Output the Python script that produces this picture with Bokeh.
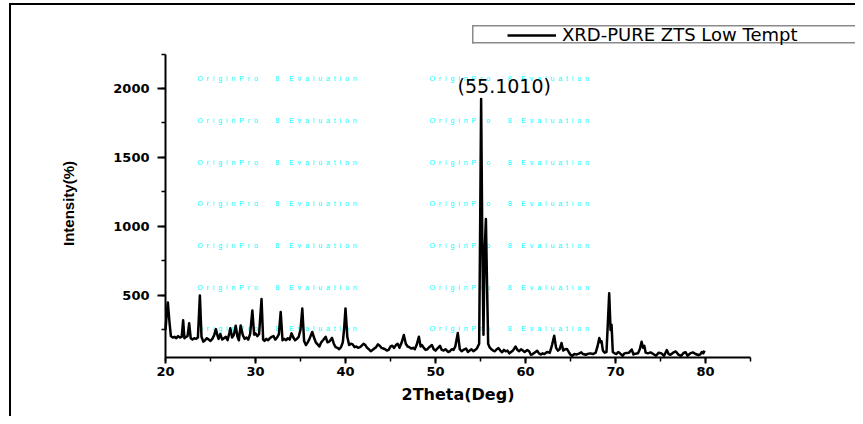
import math
from bokeh.plotting import figure
from bokeh.models import Range1d, SingleIntervalTicker, Label, Legend, LegendItem
from bokeh.core.properties import value
from bokeh.embed import file_html
from bokeh.resources import INLINE

# ---- data ----
two_theta = [
    20.0, 20.12, 20.26, 20.45, 20.6, 20.8, 21.0, 21.2, 21.4, 21.6,
    21.8, 21.96, 22.1, 22.3, 22.45, 22.63, 22.8, 23.0, 23.2, 23.4,
    23.6, 23.82, 24.0, 24.2, 24.4, 24.6, 24.8, 25.0, 25.2, 25.4,
    25.6, 25.75, 25.9, 26.1, 26.3, 26.5, 26.7, 26.9, 27.1, 27.2,
    27.4, 27.6, 27.8, 28.0, 28.15, 28.35, 28.6, 28.8, 29.0, 29.2,
    29.4, 29.65, 29.85, 30.0, 30.2, 30.4, 30.67, 30.85, 31.0, 31.2,
    31.4, 31.6, 31.8, 32.0, 32.2, 32.4, 32.6, 32.8, 33.0, 33.2,
    33.4, 33.6, 33.8, 34.0, 34.2, 34.4, 34.6, 34.8, 35.0, 35.2,
    35.4, 35.6, 35.8, 36.0, 36.3, 36.5, 36.7, 36.9, 37.1, 37.3,
    37.5, 37.8, 38.0, 38.2, 38.5, 38.7, 38.9, 39.1, 39.3, 39.5,
    39.7, 39.85, 40.0, 40.2, 40.4, 40.6, 40.8, 41.0, 41.2, 41.4,
    41.6, 41.8, 42.0, 42.2, 42.4, 42.6, 42.8, 43.0, 43.2, 43.4,
    43.6, 43.8, 44.0, 44.2, 44.4, 44.6, 44.8, 45.0, 45.2, 45.4,
    45.6, 45.8, 46.0, 46.25, 46.48, 46.7, 46.9, 47.1, 47.3, 47.5,
    47.7, 47.9, 48.15, 48.35, 48.5, 48.7, 48.9, 49.1, 49.3, 49.6,
    49.8, 50.0, 50.2, 50.5, 50.7, 50.9, 51.1, 51.4, 51.6, 51.8,
    52.0, 52.2, 52.48, 52.7, 52.9, 53.1, 53.4, 53.6, 53.8, 54.0,
    54.2, 54.4, 54.6, 54.85, 54.95, 55.07, 55.2, 55.33, 55.45, 55.6,
    55.72, 55.85, 56.0, 56.2, 56.4, 56.6, 56.8, 57.0, 57.2, 57.4,
    57.6, 57.8, 58.0, 58.2, 58.4, 58.6, 58.9, 59.1, 59.3, 59.5,
    59.7, 59.9, 60.2, 60.4, 60.6, 60.8, 61.0, 61.3, 61.5, 61.7,
    61.9, 62.1, 62.4, 62.7, 62.95, 63.19, 63.4, 63.6, 63.8, 64.0,
    64.2, 64.4, 64.6, 64.8, 65.0, 65.2, 65.4, 65.7, 66.0, 66.2,
    66.4, 66.7, 67.0, 67.2, 67.5, 67.8, 68.0, 68.2, 68.35, 68.45,
    68.6, 68.8, 69.0, 69.15, 69.3, 69.45, 69.56, 69.7, 69.9, 70.1,
    70.3, 70.5, 70.8, 71.0, 71.2, 71.5, 71.8, 72.0, 72.2, 72.5,
    72.7, 72.9, 73.05, 73.2, 73.35, 73.6, 73.9, 74.2, 74.5, 74.8,
    75.1, 75.4, 75.7, 75.9, 76.1, 76.4, 76.7, 77.0, 77.3, 77.6,
    77.8, 78.0, 78.3, 78.6, 78.9, 79.2, 79.4, 79.6, 79.75, 79.9,
]
intensity = [
    250, 350, 449, 300, 205, 195, 200, 190, 205, 195,
    200, 320, 190, 200, 205, 298, 190, 180, 190, 185,
    195, 500, 200, 165, 175, 190, 180, 170, 185, 210,
    256, 215, 185, 220, 180, 190, 200, 175, 230, 262,
    195, 215, 280, 200, 175, 282, 210, 185, 195, 180,
    220, 390, 215, 225, 205, 220, 474, 180, 170, 185,
    175, 190, 200, 205, 180, 195, 220, 380, 175, 185,
    175, 190, 180, 225, 195, 175, 185, 200, 250, 405,
    170, 140, 160, 185, 235, 195, 160, 145, 130, 160,
    175, 200, 160, 165, 192, 150, 125, 120, 110, 125,
    160, 260, 406, 200, 140, 150, 145, 125, 130, 120,
    125, 135, 150, 140, 120, 110, 95, 105, 115, 125,
    145, 135, 120, 115, 110, 100, 105, 130, 135, 120,
    140, 150, 120, 160, 213, 150, 130, 125, 115, 120,
    110, 140, 200, 130, 140, 120, 105, 110, 125, 140,
    110, 100, 115, 135, 105, 100, 110, 90, 95, 110,
    105, 130, 227, 110, 95, 105, 115, 90, 100, 110,
    95, 105, 115, 150, 900, 1923, 900, 215, 800, 1054,
    600, 150, 125, 110, 100, 95, 110, 118, 100, 88,
    105, 95, 100, 80, 90, 100, 130, 105, 95, 110,
    100, 90, 104, 95, 70, 75, 85, 99, 80, 72,
    80, 75, 90, 85, 140, 208, 120, 100, 110, 155,
    100, 110, 112, 90, 70, 62, 75, 72, 80, 87,
    75, 70, 78, 80, 75, 85, 130, 191, 160, 168,
    100, 85, 90, 300, 515, 250, 288, 90, 80, 75,
    90, 80, 63, 80, 82, 85, 108, 72, 78, 80,
    110, 164, 120, 135, 85, 80, 87, 75, 63, 85,
    80, 63, 104, 75, 70, 85, 94, 70, 63, 85,
    88, 63, 80, 87, 75, 68, 72, 90, 80, 100,
]
series_name = "XRD-PURE ZTS Low Tempt"
peak_label = "(55.1010)"
peak_label_x = 52.45
peak_label_y = 2020
x_label = "2Theta(Deg)"
y_label = "Intensity(%)"
x_axis_span = (20, 85)
y_axis_span = (50, 2250)

watermark_text = "OriginPro 8 Evaluation"
watermark_cols = [23.52, 49.33]
watermark_rows = [2072, 1766, 1463, 1166, 863, 558, 261]

# ---- layout (canvas pixels) ----
W, H = 855, 416
AX_X, AX_Y = 165, 357          # where the axes meet on the canvas
XPX = 9.0                      # px per degree
YPX = 0.13795                  # px per count

def xd(px):   # canvas px -> data x
    return x_axis_span[0] + (px - AX_X) / XPX

def yd(py):   # canvas px -> data y
    return y_axis_span[0] + (AX_Y - py) / YPX

p = figure(width=W, height=H,
           x_range=Range1d(xd(0), xd(W)),
           y_range=Range1d(yd(H), yd(0)),
           output_backend="svg", toolbar_location=None,
           min_border=0)
p.outline_line_color = None
p.xgrid.visible = False
p.ygrid.visible = False
p.background_fill_color = None
p.border_fill_color = None

# page frame lines (left, top) and the legend box outline, as page background
def bar(x, y, w, h, c):
    return f"linear-gradient({c},{c}) {x}px {y}px / {w}px {h}px no-repeat"
p.styles = {
    "background": ", ".join([
        bar(9, 4, 2, 420, "#000"),
        bar(9, 3, 854, 2, "#000"),
        bar(472, 25, 391, 1.5, "#8a8a8a"),
        bar(472, 42, 391, 1.5, "#8a8a8a"),
        bar(472, 25, 1.5, 18.5, "#8a8a8a"),
    ]) + ", #fff"
}

# watermark (spaced letters)
NB = "\u00a0"
def spaced(s):
    words = s.split(" ")
    parts = [(NB * 2).join(list(w)) for w in words]
    return (NB * 9).join(parts[:2]) + NB * 5 + parts[2]
wm = spaced(watermark_text)
wx, wy = [], []
for r in watermark_rows:
    for c in watermark_cols:
        wx.append(c)
        wy.append(r)
p.text(x=wx, y=wy, text=[wm] * len(wx), text_color="#00FFFF",
       text_font=value("Liberation Sans"), text_font_size="7px",
       text_baseline="middle", text_align="left")

# the curve
line_r = p.line(two_theta, intensity, line_color="black", line_width=2.5, line_join="round")

# axes, pinned at the data origin of the chart
p.xaxis.ticker = SingleIntervalTicker(interval=10, num_minor_ticks=2)
p.yaxis.ticker = SingleIntervalTicker(interval=500, num_minor_ticks=2)
p.xaxis.bounds = x_axis_span
p.yaxis.bounds = y_axis_span
p.xaxis.fixed_location = y_axis_span[0]
p.yaxis.fixed_location = x_axis_span[0]
for ax in (p.xaxis[0], p.yaxis[0]):
    ax.axis_line_width = 2
    ax.major_tick_line_width = 2
    ax.minor_tick_line_width = 1.5
    ax.major_tick_in = 0
    ax.minor_tick_in = 0
    ax.minor_tick_out = 4
    ax.major_label_text_font = "DejaVu Sans"
    ax.major_label_text_font_style = "bold"
    ax.major_label_text_font_size = "13px"
    ax.major_label_text_color = "black"
p.xaxis.major_tick_out = 6
p.yaxis.major_tick_out = 8
p.xaxis.major_label_standoff = 3
p.yaxis.major_label_standoff = 8

# axis titles
p.add_layout(Label(x=(x_axis_span[0] + x_axis_span[1]) / 2, y=yd(394), text=x_label,
                   text_font="DejaVu Sans", text_font_style="bold", text_font_size="16px",
                   text_align="center", text_baseline="middle", text_color="black"))
p.add_layout(Label(x=xd(68), y=yd(203), text=y_label, angle=math.pi / 2,
                   text_font="Liberation Sans", text_font_style="bold", text_font_size="15px",
                   text_align="center", text_baseline="middle", text_color="black"))

# peak annotation
p.add_layout(Label(x=peak_label_x, y=peak_label_y, text=peak_label,
                   text_font="DejaVu Sans", text_font_size="19px",
                   text_baseline="middle", text_align="left", text_color="black"))

# legend
legend = Legend(items=[LegendItem(label=series_name, renderers=[line_r])],
                location=(507, H - 45),
                padding=0, margin=0, spacing=0,
                glyph_width=49, glyph_height=18, label_height=18,
                label_standoff=6, label_text_font="DejaVu Sans",
                label_text_font_size="18px", label_text_color="black",
                border_line_color=None, background_fill_alpha=0)
p.add_layout(legend, "center")

open("out.html", "w").write(file_html(p, INLINE))
